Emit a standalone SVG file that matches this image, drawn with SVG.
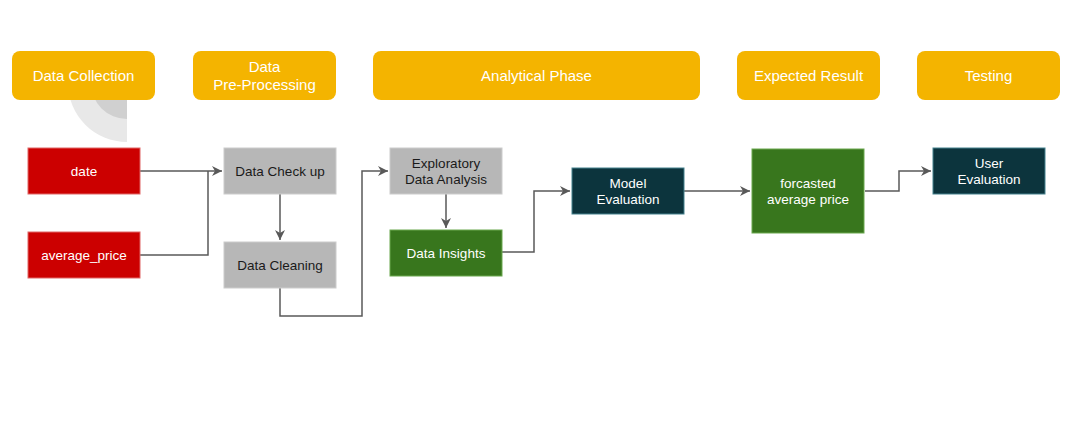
<svg xmlns="http://www.w3.org/2000/svg" width="1070" height="445" viewBox="0 0 1070 445">
<defs>
<style>
.hdr{fill:#f4b400;}
.ht{fill:#ffffff;font-family:"Liberation Sans",Arial,sans-serif;font-size:15px;text-anchor:middle;}
.nt{font-family:"Liberation Sans",Arial,sans-serif;font-size:13.5px;text-anchor:middle;}
.w{fill:#ffffff;}
.k{fill:#1a1a1a;}
.red{fill:#cc0000;stroke:#e06666;stroke-width:1;}
.gray{fill:#b7b7b7;stroke:#cccccc;stroke-width:1;}
.green{fill:#38761d;stroke:#6aa84f;stroke-width:1;}
.dark{fill:#0c343d;stroke:#45818e;stroke-width:1;}
.c{fill:none;stroke:#595959;stroke-width:1.5;}
</style>
<marker id="ah" markerWidth="12" markerHeight="10" refX="10" refY="5" orient="auto" markerUnits="userSpaceOnUse">
<path d="M0,0 L10,5 L0,10 L3,5 Z" fill="#595959"/>
</marker>
</defs>
<rect width="1070" height="445" fill="#ffffff"/>
<g id="decor">
<path d="M127,83 L127,142 A59,59 0 0 1 68,83 Z" fill="#e8e8e8"/>
<path d="M127,83 L127,119 A36,36 0 0 1 91,83 Z" fill="#d0d0d0"/>
</g>
<g id="hdr-collection"><rect class="hdr" x="12" y="51" width="143" height="49" rx="8"/><text class="ht" x="83.5" y="81">Data Collection</text></g>
<g id="hdr-preprocessing"><rect class="hdr" x="193" y="51" width="143" height="49" rx="8"/><text class="ht" x="264.5" y="72">Data</text><text class="ht" x="264.5" y="90">Pre-Processing</text></g>
<g id="hdr-analytical"><rect class="hdr" x="373" y="51" width="327" height="49" rx="8"/><text class="ht" x="536.5" y="81">Analytical Phase</text></g>
<g id="hdr-expected"><rect class="hdr" x="737" y="51" width="143" height="49" rx="8"/><text class="ht" x="808.5" y="81">Expected Result</text></g>
<g id="hdr-testing"><rect class="hdr" x="917" y="51" width="143" height="49" rx="8"/><text class="ht" x="988.5" y="81">Testing</text></g>
<g id="connectors">
<path class="c" d="M140,171 L222,171" marker-end="url(#ah)"/>
<path class="c" d="M140,255 L208,255 L208,171"/>
<path class="c" d="M280,194 L280,240" marker-end="url(#ah)"/>
<path class="c" d="M280,288 L280,316 L362,316 L362,171 L388,171" marker-end="url(#ah)"/>
<path class="c" d="M446,194 L446,228" marker-end="url(#ah)"/>
<path class="c" d="M502,252 L534,252 L534,191 L570,191" marker-end="url(#ah)"/>
<path class="c" d="M684,191 L750,191" marker-end="url(#ah)"/>
<path class="c" d="M865,191 L899,191 L899,171 L931,171" marker-end="url(#ah)"/>
</g>
<g id="n-date"><rect class="red" x="28" y="148" width="112" height="46"/><text class="nt w" x="84" y="176">date</text></g>
<g id="n-avgprice"><rect class="red" x="28" y="232" width="112" height="46"/><text class="nt w" x="84" y="260">average_price</text></g>
<g id="n-checkup"><rect class="gray" x="224" y="148" width="112" height="46"/><text class="nt k" x="280" y="176">Data Check up</text></g>
<g id="n-cleaning"><rect class="gray" x="224" y="242" width="112" height="46"/><text class="nt k" x="280" y="270">Data Cleaning</text></g>
<g id="n-eda"><rect class="gray" x="390" y="148" width="112" height="46"/><text class="nt k" x="446" y="168">Exploratory</text><text class="nt k" x="446" y="184">Data Analysis</text></g>
<g id="n-insights"><rect class="green" x="390" y="230" width="112" height="46"/><text class="nt w" x="446" y="258">Data Insights</text></g>
<g id="n-model"><rect class="dark" x="572" y="168" width="112" height="46"/><text class="nt w" x="628" y="188">Model</text><text class="nt w" x="628" y="204">Evaluation</text></g>
<g id="n-forecast"><rect class="green" x="752" y="149" width="112" height="84"/><text class="nt w" x="808" y="188">forcasted</text><text class="nt w" x="808" y="204">average price</text></g>
<g id="n-user"><rect class="dark" x="933" y="148" width="112" height="46"/><text class="nt w" x="989" y="168">User</text><text class="nt w" x="989" y="184">Evaluation</text></g>
</svg>
